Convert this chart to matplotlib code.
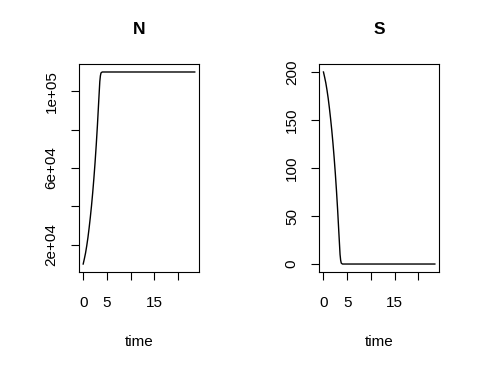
import matplotlib
matplotlib.use("Agg")
import matplotlib.pyplot as plt

# model output (time, N, S)
time = [0, 0.25, 0.5, 0.75, 1.0, 1.25, 1.5, 1.75, 2.0, 2.25, 2.5, 2.75,
        3.0, 3.25, 3.5, 3.625, 3.75, 4.0, 5, 10, 15, 20, 23.5]
N = [10000, 12750, 15750, 19500, 23750, 28750, 34250, 40250, 47000, 54500,
     62750, 72000, 82250, 93750, 105000, 108000, 109500, 110000, 110000,
     110000, 110000, 110000, 110000]
S = [200, 194.5, 188.5, 181, 172.5, 162.5, 151.5, 139.5, 126, 111,
     94.5, 76, 55.5, 32.5, 10, 4, 1, 0, 0, 0, 0, 0, 0]

x_ticks = [0, 5, 10, 15, 20]
x_labels = ["0", "5", "", "15", ""]
n_ticks = [20000, 40000, 60000, 80000, 100000]
n_labels = ["2e+04", "", "6e+04", "", "1e+05"]
s_ticks = [0, 50, 100, 150, 200]
s_labels = ["0", "50", "100", "150", "200"]

plt.rcParams["font.family"] = ["Liberation Sans", "DejaVu Sans"]
plt.rcParams["font.size"] = 11

fig = plt.figure(figsize=(4.8, 3.65), dpi=100)
ax1 = fig.add_axes([0.164, 0.2556, 0.251, 0.5682])
ax2 = fig.add_axes([0.6646, 0.2556, 0.2506, 0.5682])

panels = [(ax1, N, "N", n_ticks, n_labels), (ax2, S, "S", s_ticks, s_labels)]
for ax, y, title, yt, yl in panels:
    ax.plot(time, y, color="black", lw=1.0)
    ax.margins(x=0.04, y=0.04)
    ax.set_xticks(x_ticks)
    ax.set_xticklabels(x_labels)
    ax.set_yticks(yt)
    ax.set_yticklabels(yl, rotation=90, va="center")
    ax.tick_params(direction="out", length=5.5, width=0.8, colors="black")
    ax.tick_params(axis="x", pad=12)
    ax.tick_params(axis="y", pad=9)
    for sp in ax.spines.values():
        sp.set_linewidth(0.8)
    ax.set_xlabel("time", labelpad=18)
    ax.set_title(title, fontweight="bold", fontsize=12.5, pad=22)

fig.savefig("out.png", dpi=100)
